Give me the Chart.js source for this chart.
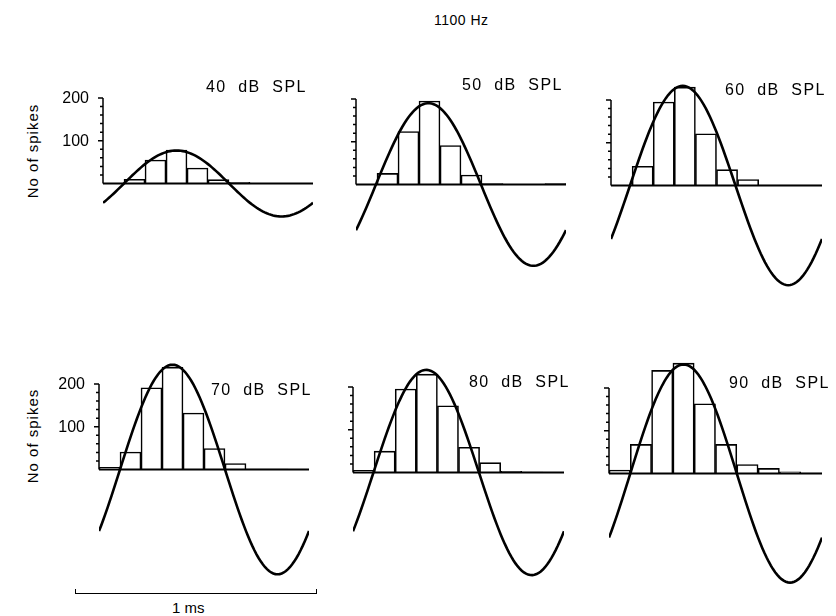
<!DOCTYPE html>
<html>
<head>
<meta charset="utf-8">
<script src="https://cdn.jsdelivr.net/npm/chart.js@4.4.0/dist/chart.umd.min.js"></script>
<style>
  body { margin: 0; background: #fff; width: 836px; height: 616px; position: relative; overflow: hidden;
         font-family: "Liberation Sans", Arial, sans-serif; color: #000; }
  canvas { position: absolute; }
  .txt { position: absolute; white-space: pre; line-height: 1; }
  .lvl { font-size: 16px; letter-spacing: 1.4px; }
  .ytitle { font-size: 15px; letter-spacing: 1px; transform: translate(-50%, -50%) rotate(-90deg); }
  #bar1ms { position: absolute; left: 75px; top: 589px; width: 240px; height: 4px;
            border: 1.5px solid #000; border-top: none; }
</style>
</head>
<body>
<div class="txt" style="left:434px; top:13px; font-size:14px; letter-spacing:0.5px;">1100 Hz</div>
<div class="txt ytitle" style="left:32px; top:151px;">No of spikes</div>
<div class="txt ytitle" style="left:32px; top:436px;">No of spikes</div>
<div id="bar1ms"></div>
<div class="txt" style="left:172px; top:600px; font-size:15px;">1 ms</div>
<script>
// period histogram bins (10 bins over one cycle of the 1100 Hz tone)
var bins = ['1', '2', '3', '4', '5', '6', '7', '8', '9', '10'];
var levels = ['40 dB SPL', '50 dB SPL', '60 dB SPL', '70 dB SPL', '80 dB SPL', '90 dB SPL'];

// number of spikes per bin
var spikes40 = [0, 10, 55, 78, 36, 9, 3, 0, 0, 0];
var spikes50 = [0, 26, 124, 195, 91, 22, 2, 0, 0, 2];
var spikes60 = [0, 45, 195, 230, 121, 37, 14, 1, 1, 1];
var spikes70 = [5, 41, 191, 239, 132, 49, 14, 1, 1, 0];
var spikes80 = [5, 50, 195, 230, 156, 59, 23, 3, 1, 0];
var spikes90 = [8, 68, 241, 258, 163, 68, 21, 12, 4, 1];

// fitted sinusoid: amplitude (spikes) and bin position of its peak
var fitAmp = [77, 190, 233, 245, 240, 255];
var fitPeak = [3.5, 3.45, 3.4, 3.5, 3.47, 3.5];

var yTicks = [100, 200];

// layout: axis origin of every panel on the page
var panelX = [103, 356, 611, 99, 353, 609];
var panelY = [183, 184, 185, 469, 472, 473];
var panelW = [210, 210, 211, 210, 211, 213];
var lvlPos = [[206, 79], [462, 77], [725, 82], [211, 382], [469, 374], [729, 375]];

var spikeSets = [spikes40, spikes50, spikes60, spikes70, spikes80, spikes90];
var unit = 0.428; // px per spike

var framePlugin = {
  id: 'frame',
  afterDatasetsDraw: function (chart, args, opts) {
    var ctx = chart.ctx, a = chart.chartArea, ys = chart.scales.y;
    var y0 = ys.getPixelForValue(0);
    ctx.save();
    ctx.strokeStyle = '#000';
    ctx.lineWidth = 2;
    ctx.beginPath();
    ctx.moveTo(a.left, y0); ctx.lineTo(a.right, y0);
    ctx.stroke();
    ctx.lineWidth = 1.5;
    ctx.beginPath();
    ctx.moveTo(a.left, y0); ctx.lineTo(a.left, ys.getPixelForValue(200));
    for (var v = 20; v <= 200; v += 20) {
      var py = ys.getPixelForValue(v);
      ctx.moveTo(a.left - (v % 100 === 0 ? 5 : 3), py); ctx.lineTo(a.left, py);
    }
    ctx.stroke();
    if (opts.labels) {
      ctx.fillStyle = '#000';
      ctx.font = '16px "Liberation Sans", Arial, sans-serif';
      ctx.textAlign = 'right';
      ctx.textBaseline = 'middle';
      yTicks.forEach(function (t) {
        ctx.fillText(String(t), a.left - 14, ys.getPixelForValue(t) + 1);
      });
    }
    ctx.restore();
  }
};

for (var p = 0; p < 6; p++) {
  var padL = 50, padR = 8, padT = 8, padB = 8;
  var h = Math.round(540 * unit);
  var cv = document.createElement('canvas');
  cv.width = panelW[p] + padL + padR;
  cv.height = h + padT + padB;
  cv.style.width = cv.width + 'px';
  cv.style.height = cv.height + 'px';
  cv.style.left = (panelX[p] - padL) + 'px';
  cv.style.top = (panelY[p] - h / 2 - padT) + 'px';
  document.body.appendChild(cv);

  var lab = document.createElement('div');
  lab.className = 'txt lvl';
  lab.style.left = lvlPos[p][0] + 'px';
  lab.style.top = lvlPos[p][1] + 'px';
  lab.textContent = levels[p].replace(/ /g, '  ');
  document.body.appendChild(lab);

  var curve = [];
  for (var i = 0; i <= 100; i++) {
    var x = i / 10;
    curve.push({ x: x, y: fitAmp[p] * Math.cos(2 * Math.PI * (x - fitPeak[p]) / 10) });
  }

  new Chart(cv.getContext('2d'), {
    type: 'bar',
    data: {
      labels: bins,
      datasets: [
        {
          type: 'line', xAxisID: 'xs', data: curve, order: 1,
          borderColor: '#000', borderWidth: 2.6, pointRadius: 0, fill: false, tension: 0
        },
        {
          type: 'bar', xAxisID: 'x', data: spikeSets[p], order: 2, grouped: false,
          backgroundColor: '#fff', borderColor: '#000', borderWidth: 1.6,
          barPercentage: 1, categoryPercentage: 1
        }
      ]
    },
    options: {
      responsive: false,
      animation: false,
      layout: { padding: { left: padL, right: padR, top: padT, bottom: padB } },
      scales: {
        x: { type: 'category', display: false, offset: true },
        xs: { type: 'linear', display: false, offset: false, min: 0, max: 10 },
        y: { display: false, min: -270, max: 270 }
      },
      plugins: {
        legend: { display: false },
        tooltip: { enabled: false },
        frame: { labels: p % 3 === 0 }
      }
    },
    plugins: [framePlugin]
  });
}
</script>
</body>
</html>
